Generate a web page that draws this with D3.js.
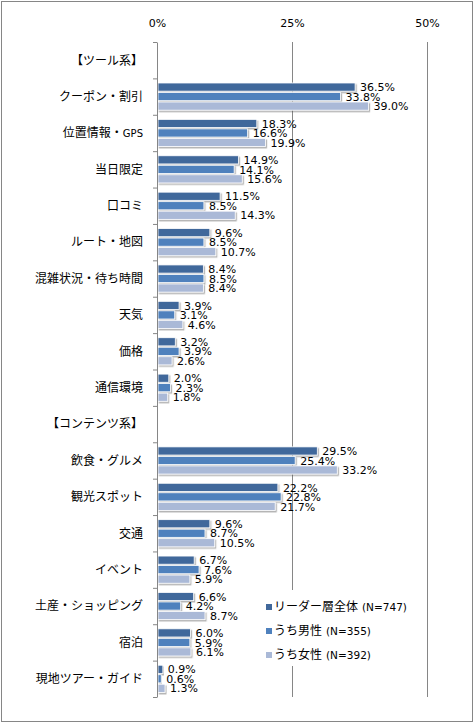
<!DOCTYPE html>
<html>
<head>
<meta charset="utf-8">
<script src="https://cdn.jsdelivr.net/npm/d3@7"></script>
<style>
  body { margin: 0; background: #fff; }
  text { font-family: "Noto Sans CJK JP", sans-serif; }
  .num { font-family: "DejaVu Sans", Tahoma, sans-serif; }
</style>
</head>
<body>
<svg id="chart"></svg>
<script>
const width = 474, height = 723;
const margin = { top: 42, right: 47, bottom: 26, left: 157 };

// data
const categories = [
  "【ツール系】", "クーポン・割引", "位置情報・GPS", "当日限定", "口コミ", "ルート・地図",
  "混雑状況・待ち時間", "天気", "価格", "通信環境",
  "【コンテンツ系】", "飲食・グルメ", "観光スポット", "交通", "イベント",
  "土産・ショッピング", "宿泊", "現地ツアー・ガイド"
];
const seriesNames = ["リーダー層全体", "うち男性", "うち女性"];
const seriesN = ["(N=747)", "(N=355)", "(N=392)"];
const allLeaders = [null, 36.5, 18.3, 14.9, 11.5, 9.6, 8.4, 3.9, 3.2, 2.0, null, 29.5, 22.2, 9.6, 6.7, 6.6, 6.0, 0.9];
const male =       [null, 33.8, 16.6, 14.1, 8.5, 8.5, 8.5, 3.1, 3.9, 2.3, null, 25.4, 22.8, 8.7, 7.6, 4.2, 5.9, 0.6];
const female =     [null, 39.0, 19.9, 15.6, 14.3, 10.7, 8.4, 4.6, 2.6, 1.8, null, 33.2, 21.7, 10.5, 5.9, 8.7, 6.1, 1.3];
const xTicks = [0, 25, 50];

const colors = ["#41689b", "#4f81bd", "#aab9d7"];
const seriesValues = [allLeaders, male, female];

const svg = d3.select("#chart")
    .attr("width", width)
    .attr("height", height);

// outer frame
svg.append("rect")
    .attr("x", 1.5).attr("y", 1.5)
    .attr("width", width - 3).attr("height", height - 3)
    .attr("fill", "#fff")
    .attr("stroke", "#868686");

const defs = svg.append("defs");
defs.append("filter")
    .attr("id", "shadow")
    .attr("x", "-10%").attr("y", "-30%").attr("width", "130%").attr("height", "180%")
  .append("feDropShadow")
    .attr("dx", 1.2).attr("dy", 1.5)
    .attr("stdDeviation", 0.7)
    .attr("flood-color", "#555")
    .attr("flood-opacity", 0.45);

const plotBottom = height - margin.bottom - 0;
const x = d3.scaleLinear()
    .domain([0, 50])
    .range([margin.left, width - margin.right + 0]);

const y = d3.scaleBand()
    .domain(categories)
    .range([margin.top, 697])
    .padding(0);

const ySub = d3.scaleBand()
    .domain(d3.range(3))
    .range([4.6, y.bandwidth() - 4.6])
    .paddingInner(0.14);

// gridlines
svg.append("g")
    .attr("class", "grid")
    .attr("transform", `translate(0, ${y.range()[1]})`)
    .call(d3.axisBottom(x).tickValues([25, 50]).tickSize(-(y.range()[1] - y.range()[0])).tickFormat(""))
    .call(g => g.select(".domain").remove())
    .call(g => g.selectAll("line").attr("stroke", "#868686"));

// top labels
svg.append("g")
    .attr("transform", `translate(0, ${margin.top})`)
    .call(d3.axisTop(x).tickValues(xTicks).tickSize(0).tickPadding(15).tickFormat(d => d + "%"))
    .call(g => g.select(".domain").remove())
    .call(g => g.selectAll("text")
        .attr("class", "num")
        .attr("font-size", 11)
        .attr("fill", "#000"));

// bars
const rows = categories.map((c, i) => ({ cat: c, vals: seriesValues.map(s => s[i]) }));

const groups = svg.append("g")
    .selectAll("g")
    .data(rows)
    .enter()
    .append("g")
    .attr("transform", d => `translate(0, ${y(d.cat)})`);

const cells = groups.selectAll(".cell")
    .data(d => d.vals.map((v, k) => ({ v: v, k: k })).filter(e => e.v !== null))
    .enter();

cells.append("rect")
    .attr("x", x(0) + 1)
    .attr("y", d => ySub(d.k))
    .attr("width", d => x(d.v) - x(0))
    .attr("height", ySub.bandwidth())
    .attr("fill", d => colors[d.k])
    .attr("stroke", "#fff")
    .attr("stroke-width", 0.8)
    .attr("filter", "url(#shadow)");

cells.append("text")
    .attr("class", "num")
    .attr("x", d => x(d.v) + 6)
    .attr("y", d => ySub(d.k) + ySub.bandwidth() / 2)
    .attr("dy", "0.38em")
    .attr("font-size", 11)
    .attr("fill", "#000")
    .text(d => d.v.toFixed(1) + "%");

// left axis line + ticks at category boundaries
const yEdge = d3.scaleLinear().domain([0, categories.length]).range(y.range());
svg.append("g")
    .attr("transform", `translate(${x(0)}, 0)`)
    .call(d3.axisLeft(yEdge).tickValues(d3.range(categories.length + 1)).tickSize(4).tickSizeOuter(0).tickFormat(""))
    .call(g => g.selectAll("line, path").attr("stroke", "#868686"));

// category labels
const labels = svg.append("g")
    .selectAll("text")
    .data(categories)
    .enter()
    .append("text")
    .attr("x", 143)
    .attr("y", d => y(d) + y.bandwidth() / 2)
    .attr("dy", "0.36em")
    .attr("text-anchor", "end")
    .attr("font-size", 12)
    .attr("fill", "#000");

labels.each(function (d) {
    const m = d.match(/^(.*?)([A-Za-z]+)$/);
    const t = d3.select(this);
    if (m) {
        t.append("tspan").text(m[1]);
        t.append("tspan").attr("class", "num").attr("font-size", 10).text(m[2]);
    } else {
        t.text(d);
    }
});

// legend
const legend = svg.append("g").attr("transform", "translate(258, 590)");
legend.append("rect")
    .attr("width", 157).attr("height", 76)
    .attr("fill", "#fff");

const items = legend.selectAll(".item")
    .data(seriesNames)
    .enter()
    .append("g")
    .attr("transform", (d, i) => `translate(0, ${17 + i * 24})`);

items.append("rect")
    .attr("x", 8).attr("y", -3)
    .attr("width", 6).attr("height", 6)
    .attr("fill", (d, i) => colors[i]);

const itemText = items.append("text")
    .attr("x", 16)
    .attr("dy", "0.36em")
    .attr("font-size", 12)
    .attr("fill", "#000");
itemText.append("tspan").text(d => d);
itemText.append("tspan")
    .attr("class", "num")
    .attr("font-size", 10.5)
    .attr("dx", 4)
    .text((d, i) => seriesN[i]);
</script>
</body>
</html>
